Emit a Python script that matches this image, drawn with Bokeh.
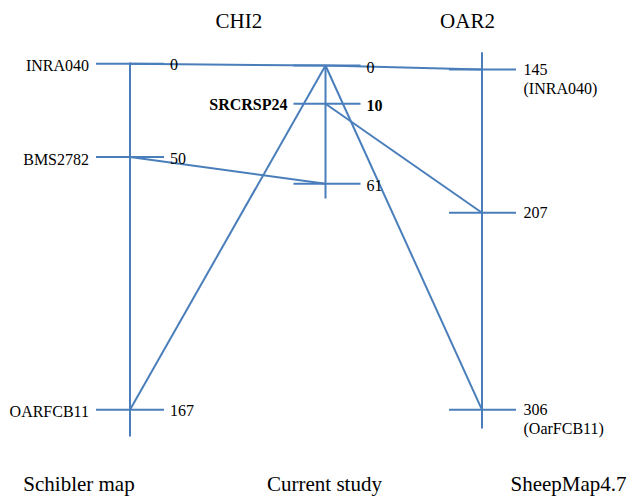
from bokeh.plotting import figure
from bokeh.models import Range1d
from bokeh.core.properties import value
from bokeh.embed import file_html
from bokeh.resources import INLINE

# ---------------- data ----------------
map_names = ["Schibler map", "Current study", "SheepMap4.7"]
chrom_names = ["CHI2", "OAR2"]

schibler_markers = ["INRA040", "BMS2782", "OARFCB11"]
schibler_cm = [0, 50, 167]
schibler_pos = [63.3, 156.5, 409.3]      # drawn position along the map (diagram units)

current_markers = ["", "SRCRSP24", ""]
current_cm = [0, 10, 61]
current_pos = [65.0, 103.3, 183.3]

sheep_notes = ["(INRA040)", "", "(OarFCB11)"]
sheep_cm = [145, 207, 306]
sheep_pos = [69.0, 212.3, 409.3]

# connections: (map_from, index_from, map_to, index_to)
links = [
    ("schibler", 0, "current", 0),
    ("current", 0, "sheep", 0),
    ("schibler", 1, "current", 2),
    ("current", 0, "schibler", 2),
    ("current", 0, "sheep", 2),
    ("current", 1, "sheep", 1),
]

# ---------------- layout ----------------
COL = {"schibler": 129.5, "current": 325.0, "sheep": 481.5}
POS = {"schibler": schibler_pos, "current": current_pos, "sheep": sheep_pos}
AXIS_EXT = {"schibler": (62.0, 436.0), "current": (65.0, 198.0), "sheep": (51.7, 428.0)}
TICK = {"schibler": (34, 34), "current": (32, 35), "sheep": (33, 34)}

BLUE = "#4a7ebb"
FONT = value("Liberation Serif")

p = figure(width=629, height=497, x_range=Range1d(0, 629), y_range=Range1d(497, 0),
           x_axis_type=None, y_axis_type=None, toolbar_location=None,
           output_backend="svg", min_border=0)
p.outline_line_color = None
p.background_fill_color = "white"

# map backbones
for k in ["schibler", "current", "sheep"]:
    y0, y1 = AXIS_EXT[k]
    p.segment(x0=[COL[k]], y0=[y0], x1=[COL[k]], y1=[y1], line_color=BLUE, line_width=2)

# tick marks
for k in ["schibler", "current", "sheep"]:
    l, r = TICK[k]
    ys = POS[k]
    p.segment(x0=[COL[k] - l] * len(ys), y0=ys, x1=[COL[k] + r] * len(ys), y1=ys,
              line_color=BLUE, line_width=2)

# connections
lx0, ly0, lx1, ly1 = [], [], [], []
for a, ia, b, ib in links:
    lx0.append(COL[a]); ly0.append(POS[a][ia])
    lx1.append(COL[b]); ly1.append(POS[b][ib])
p.segment(x0=lx0, y0=ly0, x1=lx1, y1=ly1, line_color=BLUE, line_width=2)

TXT = dict(text_font=FONT, text_font_size="16px", text_color="black", text_baseline="middle")

# Schibler labels
p.text(x=[COL["schibler"] - 41] * 3, y=schibler_pos, text=schibler_markers, text_align="right",
       y_offset=2, **TXT)
p.text(x=[COL["schibler"] + 40] * 3, y=schibler_pos, text=[str(v) for v in schibler_cm],
       text_align="left", y_offset=1, **TXT)

# Current study labels
bold_flags = [m != "" for m in current_markers]
for i, v in enumerate(current_cm):
    style = "bold" if bold_flags[i] else "normal"
    p.text(x=[COL["current"] + 41], y=[current_pos[i]], text=[str(v)], text_align="left",
           text_font_style=style, y_offset=2, **TXT)
    if current_markers[i]:
        p.text(x=[COL["current"] - 38], y=[current_pos[i]], text=[current_markers[i]],
               text_align="right", text_font_style="bold", y_offset=1, **TXT)

# SheepMap labels
p.text(x=[COL["sheep"] + 41.5] * 3, y=sheep_pos, text=[str(v) for v in sheep_cm],
       text_align="left", y_offset=0, **TXT)
note_x = [COL["sheep"] + 41.5 for n in sheep_notes if n]
note_y = [sheep_pos[i] for i, n in enumerate(sheep_notes) if n]
p.text(x=note_x, y=note_y, text=[n for n in sheep_notes if n], text_align="left",
       y_offset=18.5, **TXT)

# chromosome titles
p.text(x=[COL["schibler"] + 108.8, COL["sheep"] - 14.5], y=[20.5, 20.5], text=chrom_names,
       text_align="center", text_baseline="middle", text_font=FONT, text_font_size="21px",
       text_color="black")

# map names
p.text(x=[COL["schibler"] - 51, COL["current"] - 1, COL["sheep"] + 86.5], y=[483, 483, 483],
       text=map_names, text_align="center", text_baseline="middle", text_font=FONT,
       text_font_size="21px", text_color="black")

open("out.html", "w").write(file_html(p, INLINE))
